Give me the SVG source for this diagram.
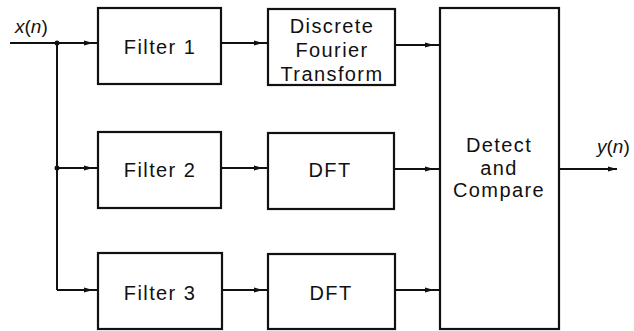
<svg xmlns="http://www.w3.org/2000/svg" width="634" height="331" viewBox="0 0 634 331">
  <defs>
    <marker id="ah" markerWidth="9" markerHeight="6" refX="9" refY="3" orient="auto" markerUnits="userSpaceOnUse">
      <path d="M0,0.5 L9,3 L0,5.5 Z" fill="#111"/>
    </marker>
  </defs>
  <style>
    .box { fill: #fff; stroke: #111; stroke-width: 2.2; }
    .ln { fill: none; stroke: #111; stroke-width: 2; }
    .t { font-family: "Liberation Sans", Arial, sans-serif; font-size: 20px; letter-spacing: 1.4px; fill: #111; text-anchor: middle; }
    .lbl { font-family: "Liberation Sans", Arial, sans-serif; font-size: 19px; fill: #111; }
  </style>
  <rect width="634" height="331" fill="#fff"/>

  <g id="connectors">
    <path class="ln" d="M10,43 H98"/>
    <path class="ln" d="M57,43 V290"/>
    <path class="ln" d="M57,168 H98"/>
    <path class="ln" d="M57,290 H98"/>
    <path class="ln" d="M221,43 H268"/>
    <path class="ln" d="M221,168 H268"/>
    <path class="ln" d="M222,290 H268"/>
    <path class="ln" d="M395,45 H440"/>
    <path class="ln" d="M394,169 H440"/>
    <path class="ln" d="M395,290 H440"/>
    <path class="ln" d="M559,169 H617" marker-end="url(#ah)"/>
    <path class="ln" d="M80,43 H93" marker-end="url(#ah)"/>
    <path class="ln" d="M80,168 H93" marker-end="url(#ah)"/>
    <path class="ln" d="M80,290 H93" marker-end="url(#ah)"/>
    <path class="ln" d="M250,43 H263" marker-end="url(#ah)"/>
    <path class="ln" d="M250,168 H263" marker-end="url(#ah)"/>
    <path class="ln" d="M250,290 H263" marker-end="url(#ah)"/>
    <path class="ln" d="M420,45 H434" marker-end="url(#ah)"/>
    <path class="ln" d="M420,169 H434" marker-end="url(#ah)"/>
    <path class="ln" d="M420,290 H434" marker-end="url(#ah)"/>
    <circle cx="57" cy="43" r="2.5" fill="#111"/>
    <circle cx="57" cy="168" r="2.5" fill="#111"/>
  </g>

  <g id="input-label">
    <text class="lbl" x="15" y="33"><tspan font-style="italic">x</tspan>(<tspan font-style="italic">n</tspan>)</text>
  </g>
  <g id="output-label">
    <text class="lbl" x="597" y="153"><tspan font-style="italic">y</tspan>(<tspan font-style="italic">n</tspan>)</text>
  </g>

  <g id="filter1">
    <rect class="box" x="98" y="8" width="123" height="76"/>
    <text class="t" x="160" y="54">Filter 1</text>
  </g>
  <g id="filter2">
    <rect class="box" x="98" y="132" width="123" height="76"/>
    <text class="t" x="160" y="177">Filter 2</text>
  </g>
  <g id="filter3">
    <rect class="box" x="98" y="253" width="124" height="76"/>
    <text class="t" x="160" y="300">Filter 3</text>
  </g>

  <g id="dft1">
    <rect class="box" x="268" y="9" width="127" height="76"/>
    <text class="t" x="332" y="33">Discrete</text>
    <text class="t" x="332" y="57">Fourier</text>
    <text class="t" x="332" y="81">Transform</text>
  </g>
  <g id="dft2">
    <rect class="box" x="268" y="133" width="126" height="76"/>
    <text class="t" x="330" y="177">DFT</text>
  </g>
  <g id="dft3">
    <rect class="box" x="268" y="254" width="127" height="75"/>
    <text class="t" x="331" y="300">DFT</text>
  </g>

  <g id="detect">
    <rect class="box" x="440" y="8" width="119" height="321"/>
    <text class="t" x="499" y="152">Detect</text>
    <text class="t" x="499" y="175">and</text>
    <text class="t" x="499" y="197">Compare</text>
  </g>
</svg>
